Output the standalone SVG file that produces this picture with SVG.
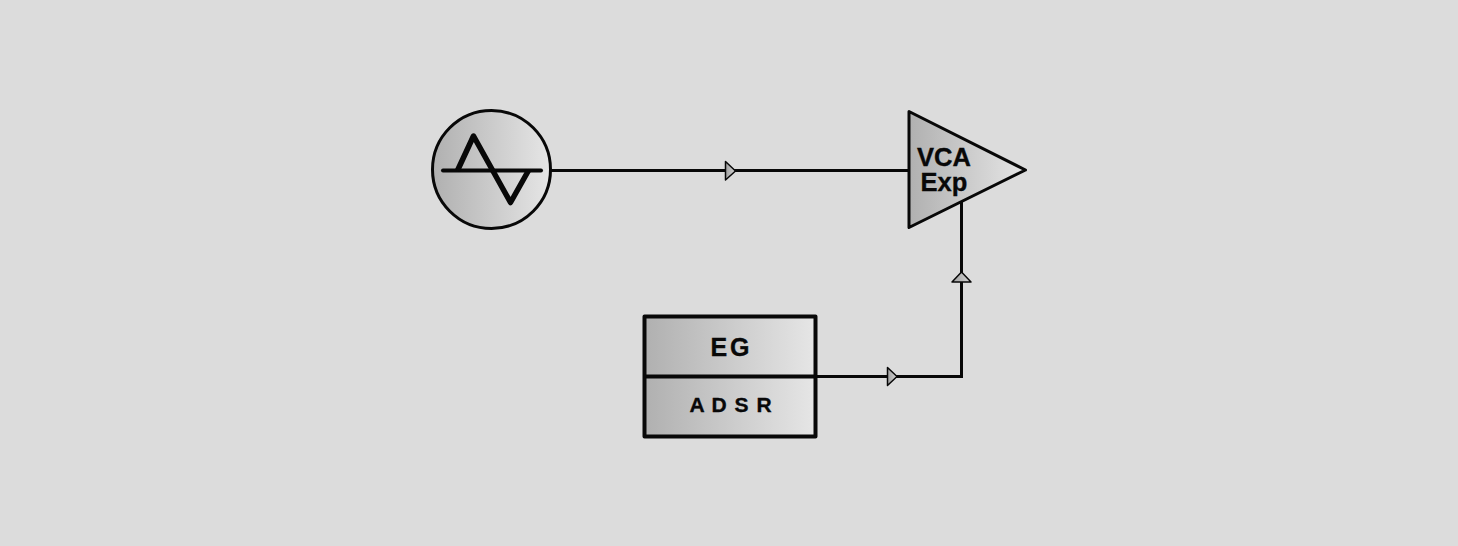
<svg xmlns="http://www.w3.org/2000/svg" width="1458" height="546" viewBox="0 0 1458 546">
<defs>
<linearGradient id="g" x1="0" y1="0" x2="1" y2="0"><stop offset="0" stop-color="#b0b0b0"/><stop offset="1" stop-color="#e6e6e6"/></linearGradient>
<linearGradient id="ga" x1="0" y1="0" x2="1" y2="0"><stop offset="0" stop-color="#a0a0a0"/><stop offset="1" stop-color="#d4d4d4"/></linearGradient>
</defs>
<style>
.s{stroke:#080808;stroke-linejoin:round}
.w{stroke:#080808;stroke-width:3;fill:none;stroke-linejoin:miter}
.a{fill:url(#ga);stroke:#080808;stroke-width:1.5;stroke-linejoin:round}
text{font-family:"Liberation Sans",Arial,sans-serif;font-weight:bold;fill:#080808;stroke:#080808;stroke-width:.35;text-anchor:middle}
</style>
<rect width="1458" height="546" fill="#dcdcdc"/>
<g id="connectors">
<path class="w" d="M551 170.500H909"/>
<path class="w" d="M816 376.500H961.500V202"/>
<path class="a" d="M725.500 161.500L735.500 171L725.500 180Z"/>
<path class="a" d="M887.500 367.500L897 376.500L887.500 385.500Z"/>
<path class="a" d="M952 282L961.500 272L971 282Z"/>
</g>
<g id="oscillator">
<circle class="s" cx="491.500" cy="169.500" r="59" fill="url(#g)" stroke-width="3"/>
<path d="M443 170.500H541" fill="none" stroke="#080808" stroke-width="4" stroke-linecap="round"/>
<path d="M457.500 170.500L473.500 136L510.500 202.500L528.500 170.500" fill="none" stroke="#080808" stroke-width="5.500" stroke-linejoin="round"/>
</g>
<g id="vca">
<path class="s" d="M909 111.500L1025.500 170L909 227.500Z" fill="url(#g)" stroke-width="3"/>
<text font-size="25.500"><tspan x="944" y="166">VCA</tspan><tspan x="944" y="191">Exp</tspan></text>
</g>
<g id="eg">
<rect x="644.500" y="316.500" width="171" height="120" fill="url(#g)" stroke="#080808" stroke-width="4" stroke-linejoin="round"/>
<path d="M644.500 376.500H815.500" stroke="#080808" stroke-width="4" fill="none"/>
<text x="731.500" y="356" font-size="25" letter-spacing="3">EG</text>
<text x="731" y="412" font-size="21" letter-spacing="1">A D S R</text>
</g>
</svg>
